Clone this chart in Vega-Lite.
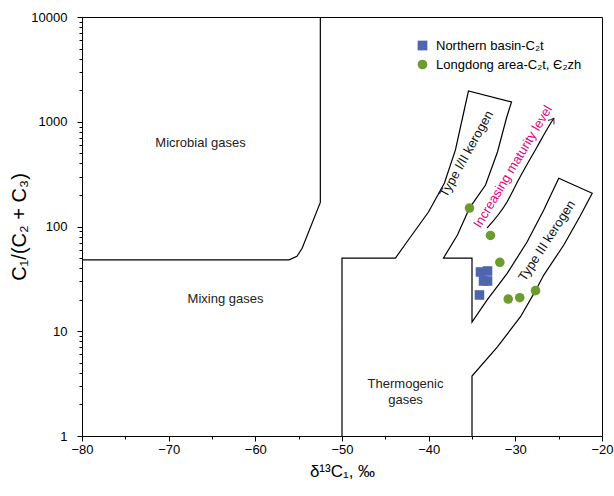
{
  "$schema": "https://vega.github.io/schema/vega-lite/v6.json",
  "width": 520,
  "height": 419,
  "autosize": {"type": "none"},
  "padding": {"left": 82, "top": 17, "right": 12, "bottom": 60},
  "config": {
    "view": {"stroke": "black", "strokeWidth": 1},
    "font": "Liberation Sans",
    "axis": {
      "grid": false,
      "domainColor": "black",
      "domainWidth": 1,
      "tickColor": "black",
      "tickWidth": 1,
      "labelColor": "black",
      "labelFont": "Liberation Sans",
      "labelFontSize": 13,
      "titleColor": "black",
      "titleFont": "Liberation Sans",
      "titleFontWeight": "normal",
      "labelOverlap": false,
      "labelFlush": false
    },
    "legend": {
      "labelFont": "Liberation Sans",
      "labelFontSize": 13,
      "labelColor": "black",
      "symbolSize": 95,
      "symbolStrokeWidth": 0,
      "rowPadding": 5,
      "labelOffset": 7,
      "padding": 0
    }
  },
  "datasets": {
    "boundaries": [
      {"seg": "microbial", "i": 0, "x": -80, "y": 48},
      {"seg": "microbial", "i": 1, "x": -56.1, "y": 48},
      {"seg": "microbial", "i": 2, "x": -55.2, "y": 52},
      {"seg": "microbial", "i": 3, "x": -54.6, "y": 62},
      {"seg": "microbial", "i": 4, "x": -52.5, "y": 170},
      {"seg": "microbial", "i": 5, "x": -52.5, "y": 10000},
      {"seg": "kerogen", "i": 0, "x": -50, "y": 1},
      {"seg": "kerogen", "i": 1, "x": -50, "y": 50},
      {"seg": "kerogen", "i": 2, "x": -43.83, "y": 50},
      {"seg": "kerogen", "i": 3, "x": -42.1, "y": 79.4},
      {"seg": "kerogen", "i": 4, "x": -40.02, "y": 137.5},
      {"seg": "kerogen", "i": 5, "x": -38.18, "y": 260},
      {"seg": "kerogen", "i": 6, "x": -36.91, "y": 538},
      {"seg": "kerogen", "i": 7, "x": -36.1, "y": 1086},
      {"seg": "kerogen", "i": 8, "x": -35.41, "y": 1966},
      {"seg": "kerogen", "i": 9, "x": -30.44, "y": 1543},
      {"seg": "kerogen", "i": 10, "x": -31.02, "y": 1086},
      {"seg": "kerogen", "i": 11, "x": -32.06, "y": 514},
      {"seg": "kerogen", "i": 12, "x": -33.44, "y": 249},
      {"seg": "kerogen", "i": 13, "x": -35.29, "y": 150},
      {"seg": "kerogen", "i": 14, "x": -36.68, "y": 83},
      {"seg": "kerogen", "i": 15, "x": -38.29, "y": 50},
      {"seg": "kerogen", "i": 16, "x": -35, "y": 50},
      {"seg": "kerogen", "i": 17, "x": -35, "y": 12.26},
      {"seg": "kerogen", "i": 18, "x": -33.25, "y": 19.9},
      {"seg": "kerogen", "i": 19, "x": -30.94, "y": 35.7},
      {"seg": "kerogen", "i": 20, "x": -28.63, "y": 71.6},
      {"seg": "kerogen", "i": 21, "x": -26.72, "y": 143.7},
      {"seg": "kerogen", "i": 22, "x": -24.99, "y": 288.5},
      {"seg": "kerogen", "i": 23, "x": -21.13, "y": 207.5},
      {"seg": "kerogen", "i": 24, "x": -22.58, "y": 123.2},
      {"seg": "kerogen", "i": 25, "x": -24.41, "y": 66.6},
      {"seg": "kerogen", "i": 26, "x": -26.72, "y": 34.4},
      {"seg": "kerogen", "i": 27, "x": -27.67, "y": 24.4},
      {"seg": "kerogen", "i": 28, "x": -29.4, "y": 13.77},
      {"seg": "kerogen", "i": 29, "x": -32.09, "y": 7.07},
      {"seg": "kerogen", "i": 30, "x": -35, "y": 3.74},
      {"seg": "kerogen", "i": 31, "x": -35, "y": 1}
    ],
    "arrow": [
      {"i": 0, "x": -33.25, "y": 96.8},
      {"i": 1, "x": -30.94, "y": 172.5},
      {"i": 2, "x": -29.64, "y": 277.9},
      {"i": 3, "x": -27.48, "y": 578},
      {"i": 4, "x": -26.17, "y": 897},
      {"i": 5, "x": -25.56, "y": 1079}
    ],
    "samples": [
      {"group": "Northern basin-C₂t", "x": -34.02, "y": 36.8},
      {"group": "Northern basin-C₂t", "x": -33.21, "y": 37.6},
      {"group": "Northern basin-C₂t", "x": -33.21, "y": 30.2},
      {"group": "Northern basin-C₂t", "x": -33.67, "y": 30.2},
      {"group": "Northern basin-C₂t", "x": -34.14, "y": 22.2},
      {"group": "Longdong area-C₂t, Є₂zh", "x": -35.29, "y": 150},
      {"group": "Longdong area-C₂t, Є₂zh", "x": -32.87, "y": 82.1},
      {"group": "Longdong area-C₂t, Є₂zh", "x": -31.79, "y": 45.5},
      {"group": "Longdong area-C₂t, Є₂zh", "x": -30.82, "y": 20.3},
      {"group": "Longdong area-C₂t, Є₂zh", "x": -29.49, "y": 20.9},
      {"group": "Longdong area-C₂t, Є₂zh", "x": -27.67, "y": 24.4}
    ],
    "labels": [
      {"label": "Microbial gases", "x": -66.33, "y": 627},
      {"label": "Mixing gases", "x": -63.44, "y": 20.3},
      {"label": "Thermogenic\ngases", "x": -42.67, "y": 3.14},
      {"label": "Type I/II kerogen", "x": -35.64, "y": 492},
      {"label": "Type III kerogen", "x": -26.35, "y": 73},
      {"label": "Increasing maturity level", "x": -30.27, "y": 372}
    ]
  },
  "layer": [
    {
      "data": {"name": "boundaries"},
      "mark": {"type": "line", "color": "black", "strokeWidth": 1.2},
      "encoding": {
        "x": {
          "field": "x",
          "type": "quantitative",
          "scale": {"domain": [-80, -20], "nice": false, "zero": false},
          "axis": {
            "title": "δ¹³C₁, ‰",
            "titleFontSize": 17,
            "values": [-80, -75, -70, -65, -60, -55, -50, -45, -40, -35, -30, -25, -20],
            "format": "d",
            "labelExpr": "datum.value % 10 == 0 ? datum.label : ''",
            "tickSize": {"condition": {"test": "datum.value % 10 == 0", "value": 5}, "value": 3},
            "labelPadding": 2,
            "titlePadding": 7
          }
        },
        "y": {
          "field": "y",
          "type": "quantitative",
          "scale": {"type": "log", "domain": [1, 10000], "nice": false},
          "axis": {
            "title": "C₁/(C₂ + C₃)",
            "titleFontSize": 20,
            "values": [1, 2, 3, 4, 5, 6, 7, 8, 9, 10, 20, 30, 40, 50, 60, 70, 80, 90, 100, 200, 300, 400, 500, 600, 700, 800, 900, 1000, 2000, 3000, 4000, 5000, 6000, 7000, 8000, 9000, 10000],
            "format": "d",
            "labelExpr": "(datum.value == 1 || datum.value == 10 || datum.value == 100 || datum.value == 1000 || datum.value == 10000) ? datum.label : ''",
            "tickSize": {"condition": {"test": "datum.value == 1 || datum.value == 10 || datum.value == 100 || datum.value == 1000 || datum.value == 10000", "value": 5}, "value": 3},
            "labelPadding": 10,
            "titlePadding": 1
          }
        },
        "detail": {"field": "seg"},
        "order": {"field": "i", "type": "quantitative"}
      }
    },
    {
      "data": {"name": "arrow"},
      "mark": {"type": "line", "color": "black", "strokeWidth": 1.2, "interpolate": "monotone"},
      "encoding": {
        "x": {"field": "x", "type": "quantitative"},
        "y": {"field": "y", "type": "quantitative"},
        "order": {"field": "i", "type": "quantitative"}
      }
    },
    {
      "data": {"name": "arrow"},
      "transform": [{"filter": "datum.i == 5"}],
      "mark": {"type": "point", "shape": "M-0.7,1L0,0L0.7,1", "filled": false, "stroke": "black", "strokeWidth": 1.2, "size": 100, "angle": 33},
      "encoding": {
        "x": {"field": "x", "type": "quantitative"},
        "y": {"field": "y", "type": "quantitative"}
      }
    },
    {
      "data": {"name": "samples"},
      "mark": {"type": "point", "filled": true, "opacity": 1, "size": 92},
      "encoding": {
        "x": {"field": "x", "type": "quantitative"},
        "y": {"field": "y", "type": "quantitative"},
        "color": {
          "field": "group",
          "type": "nominal",
          "scale": {"domain": ["Northern basin-C₂t", "Longdong area-C₂t, Є₂zh"], "range": ["#4f65b0", "#6c9c2e"]},
          "legend": {"title": null, "orient": "none", "legendX": 334, "legendY": 22}
        },
        "shape": {
          "field": "group",
          "type": "nominal",
          "scale": {"domain": ["Northern basin-C₂t", "Longdong area-C₂t, Є₂zh"], "range": ["square", "circle"]},
          "legend": {"title": null, "orient": "none", "legendX": 334, "legendY": 22}
        }
      }
    },
    {
      "data": {"name": "labels"},
      "transform": [{"filter": "indexof(['Microbial gases', 'Mixing gases', 'Thermogenic\\ngases'], datum.label) >= 0"}],
      "mark": {"type": "text", "fontSize": 13, "color": "#222222", "lineBreak": "\n", "lineHeight": 16},
      "encoding": {
        "x": {"field": "x", "type": "quantitative"},
        "y": {"field": "y", "type": "quantitative"},
        "text": {"field": "label"}
      }
    },
    {
      "data": {"name": "labels"},
      "transform": [{"filter": "datum.label == 'Type I/II kerogen'"}],
      "mark": {"type": "text", "fontSize": 13, "color": "#111111", "angle": -61},
      "encoding": {
        "x": {"field": "x", "type": "quantitative"},
        "y": {"field": "y", "type": "quantitative"},
        "text": {"field": "label"}
      }
    },
    {
      "data": {"name": "labels"},
      "transform": [{"filter": "datum.label == 'Type III kerogen'"}],
      "mark": {"type": "text", "fontSize": 13, "color": "#111111", "angle": -57},
      "encoding": {
        "x": {"field": "x", "type": "quantitative"},
        "y": {"field": "y", "type": "quantitative"},
        "text": {"field": "label"}
      }
    },
    {
      "data": {"name": "labels"},
      "transform": [{"filter": "datum.label == 'Increasing maturity level'"}],
      "mark": {"type": "text", "fontSize": 13, "color": "#e4007f", "angle": -59},
      "encoding": {
        "x": {"field": "x", "type": "quantitative"},
        "y": {"field": "y", "type": "quantitative"},
        "text": {"field": "label"}
      }
    }
  ]
}
